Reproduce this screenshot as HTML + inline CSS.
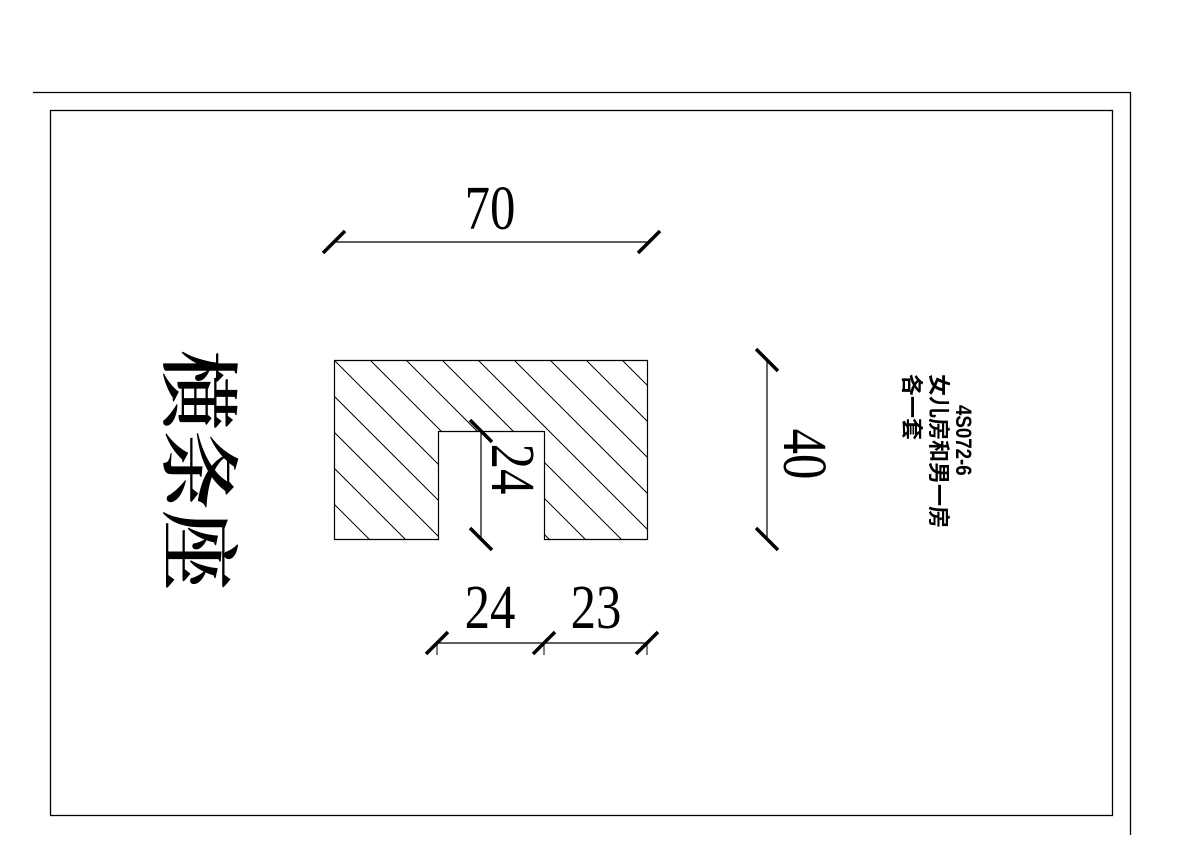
<!DOCTYPE html>
<html><head><meta charset="utf-8"><style>html,body{margin:0;padding:0;background:#fff}svg{display:block}</style></head>
<body>
<svg width="1191" height="842" viewBox="0 0 1191 842" xmlns="http://www.w3.org/2000/svg">
<defs>
<clipPath id="c"><path d="M334 360H647V539H544V431H438V539H334Z"/></clipPath>
</defs>
<g fill="none" stroke="#000">
<path d="M33 92.5H1130.5V835" stroke-width="1.3"/>
<rect x="50.5" y="110.5" width="1062" height="705" stroke-width="1.3"/>
<g clip-path="url(#c)" stroke-width="1">
<path d="M154 360l180 180M190 360l180 180M226 360l180 180M262 360l180 180M298 360l180 180M334 360l180 180M370 360l180 180M406 360l180 180M442 360l180 180M478 360l180 180M514 360l180 180M550 360l180 180M586 360l180 180M622 360l180 180"/>
</g>
<path d="M334.5 360.5H647.5V539.5H544.5V431.5H438.5V539.5H334.5Z" stroke-width="1.2"/>
<path d="M334 242H651M437 643H647M481 432V539M767 360V539" stroke-width="1.2"/>
<path d="M437 643v12M544 643v12M647 643v12" stroke-width="1"/>
<g stroke-width="3.5">
<path d="M323 253l22-22M638 253l22-22"/>
<path d="M426 654l22-22M533 654l22-22M636 654l22-22"/>
<path d="M470 420l22 22M470 528l22 22"/>
<path d="M756 349l22 22M756 528l22 22"/>
</g>
</g>
<g font-family="'Liberation Serif',serif" font-size="62" text-anchor="middle" fill="#000">
<text transform="translate(490 229) scale(0.82 1)">70</text>
<text transform="translate(490 628) scale(0.82 1)">24</text>
<text transform="translate(596 628) scale(0.82 1)">23</text>
<text transform="translate(492 469) rotate(90) scale(0.82 1)">24</text>
<text transform="translate(784 454) rotate(90) scale(0.82 1)">40</text>
</g>
<text transform="translate(170 470) rotate(90)" font-family="'Noto Serif CJK SC','Liberation Serif',serif" font-weight="600" font-size="80" text-anchor="middle">横条座</text>
<g font-family="'Liberation Sans','Noto Sans CJK SC',sans-serif" font-size="22" font-weight="bold" fill="#000">
<text transform="translate(956 405) rotate(90) scale(0.85 1)">4S072-6</text>
<text transform="translate(931 374) rotate(90)">女儿房和男一房</text>
<text transform="translate(904 374) rotate(90)">各一套</text>
</g>
</svg>
</body></html>
